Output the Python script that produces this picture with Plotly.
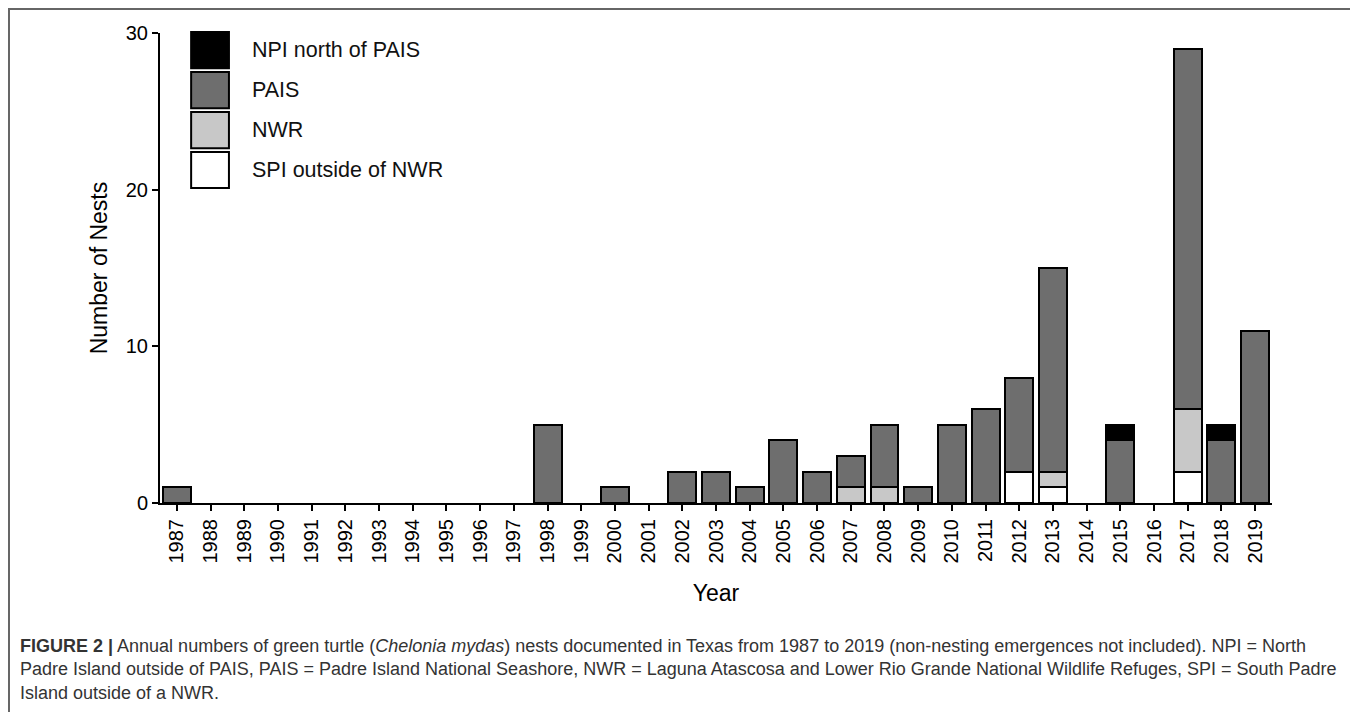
import plotly.graph_objects as go

years = [str(y) for y in range(1987, 2020)]

# nests per year by location (0 -> no bar)
spi = [0] * 25 + [2, 1, 0, 0, 0, 2, 0, 0]
nwr = [0] * 20 + [1, 1, 0, 0, 0, 0, 1, 0, 0, 0, 4, 0, 0]
pais = [1, 0, 0, 0, 0, 0, 0, 0, 0, 0, 0, 5, 0, 1, 0, 2, 2, 1, 4, 2,
        2, 4, 1, 5, 6, 6, 13, 0, 4, 0, 23, 4, 11]
npi = [0] * 28 + [1, 0, 0, 1, 0]

series = [
    ("SPI outside of NWR", spi, "#ffffff"),
    ("NWR", nwr, "#c8c8c8"),
    ("PAIS", pais, "#6e6e6e"),
    ("NPI north of PAIS", npi, "#000000"),
]

fig = go.Figure()
for name, vals, color in series:
    fig.add_trace(go.Bar(
        x=years,
        y=[v if v else None for v in vals],
        name=name,
        marker=dict(color=color, line=dict(color="#000000", width=2)),
        showlegend=False,
    ))

# legend drawn as large swatches (top to bottom)
legend_items = list(reversed(series))
box_top = [1.004, 0.919, 0.834, 0.749]
box_h = 0.081
for (name, _, color), top in zip(legend_items, box_top):
    fig.add_shape(type="rect", xref="paper", yref="paper",
                  x0=0.028, x1=0.062, y0=top - box_h + 0.002, y1=top - 0.002,
                  fillcolor=color, line=dict(color="#000000", width=2))
    fig.add_annotation(text=name, xref="paper", yref="paper",
                       x=0.081, y=top - box_h / 2, xanchor="left", yanchor="middle",
                       showarrow=False, font=dict(size=21.5, color="#111111"))

# outer frame
fig.add_shape(type="rect", xref="paper", yref="paper",
              x0=-0.1358, x1=1.0738, y0=-0.6, y1=1.051,
              line=dict(color="#666666", width=2), fillcolor="rgba(0,0,0,0)")

caption = (
    "<b>FIGURE 2 |</b> Annual numbers of green turtle (<i>Chelonia mydas</i>) nests documented "
    "in Texas from 1987 to 2019 (non-nesting emergences not included). NPI = North<br>"
    "Padre Island outside of PAIS, PAIS = Padre Island National Seashore, NWR = Laguna Atascosa "
    "and Lower Rio Grande National Wildlife Refuges, SPI = South Padre<br>"
    "Island outside of a NWR."
)
fig.add_annotation(text=caption, xref="paper", yref="paper",
                   x=-0.128, y=-0.279, xanchor="left", yanchor="top", align="left",
                   showarrow=False, font=dict(size=18, color="#333333"))

fig.update_layout(
    barmode="stack",
    bargap=0.17,
    width=1350,
    height=704,
    margin=dict(l=152, r=86, t=25, b=209, autoexpand=False),
    plot_bgcolor="white",
    paper_bgcolor="white",
    font=dict(family="Liberation Sans, Arial, sans-serif", color="#000000"),
    xaxis=dict(
        title=dict(text="Year", font=dict(size=23), standoff=22),
        tickangle=-90,
        tickfont=dict(size=20),
        showline=True, linecolor="#000000", linewidth=2,
        ticks="outside", ticklen=6, tickwidth=2, tickcolor="#000000",
        showgrid=False, range=[-0.5, 32.5], automargin=False,
    ),
    yaxis=dict(
        title=dict(text="Number of Nests", font=dict(size=23), standoff=12),
        tickfont=dict(size=20),
        range=[0, 30], tickvals=[0, 10, 20, 30],
        showline=True, linecolor="#000000", linewidth=2,
        ticks="outside", ticklen=6, tickwidth=2, tickcolor="#000000",
        showgrid=False, zeroline=False, automargin=False,
    ),
)

fig.write_html("out.html")
